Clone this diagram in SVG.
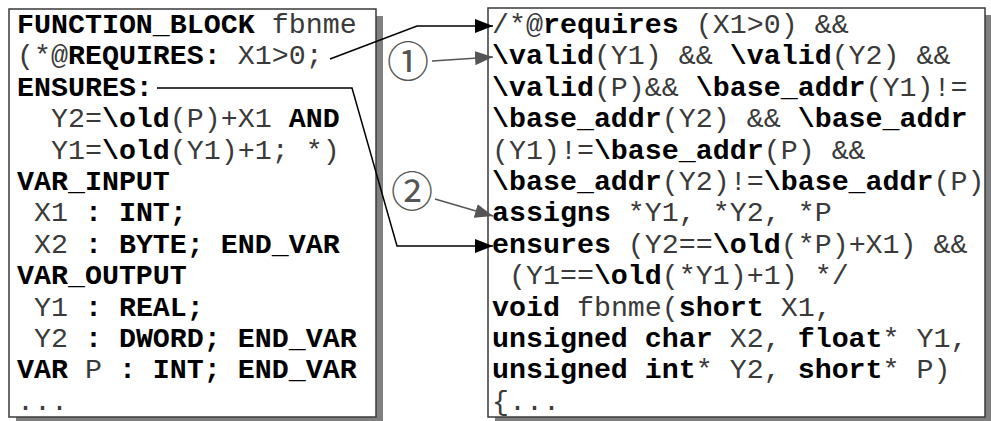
<svg xmlns="http://www.w3.org/2000/svg" width="991" height="421" viewBox="0 0 991 421">
<style>
.shadow{fill:#808080}
.box{fill:#fff;stroke:#3a3a3a;stroke-width:1.5}
.t{font-family:"Courier New","Liberation Mono",monospace;font-size:28.3px;fill:#3a3a3a;white-space:pre}
.b{font-weight:bold;fill:#000}
.c{fill:none;stroke:#000;stroke-width:1.5}
.g{fill:none;stroke:#555;stroke-width:1.5}
.num{font-family:"Noto Sans CJK JP","DejaVu Sans",sans-serif;font-size:42px;fill:#555;text-anchor:middle}
</style>
<defs>
<marker id="ab" markerUnits="userSpaceOnUse" markerWidth="18" markerHeight="14" refX="18" refY="7" orient="auto"><path d="M0,0 L18,7 L0,14 z" fill="#000"/></marker>
<marker id="ag" markerUnits="userSpaceOnUse" markerWidth="18" markerHeight="14" refX="18" refY="7" orient="auto"><path d="M0,0 L18,7 L0,14 z" fill="#555"/></marker>
</defs>
<rect width="991" height="421" fill="#fff"/>
<g id="iec-source">
<rect class="shadow" x="16" y="16" width="367" height="408"/>
<rect class="box" x="9" y="9" width="367" height="408"/>
<text class="t" x="17" y="33" xml:space="preserve"><tspan class="b">FUNCTION_BLOCK</tspan> fbnme</text>
<text class="t" x="17" y="64.4" xml:space="preserve">(*@<tspan class="b">REQUIRES:</tspan> X1&gt;0;</text>
<text class="t" x="17" y="95.8" xml:space="preserve"><tspan class="b">ENSURES:</tspan></text>
<text class="t" x="17" y="127.2" xml:space="preserve">  Y2=<tspan class="b">\old</tspan>(P)+X1 <tspan class="b">AND</tspan></text>
<text class="t" x="17" y="158.6" xml:space="preserve">  Y1=<tspan class="b">\old</tspan>(Y1)+1; *)</text>
<text class="t" x="17" y="190" xml:space="preserve"><tspan class="b">VAR_INPUT</tspan></text>
<text class="t" x="17" y="221.4" xml:space="preserve"> X1 <tspan class="b">: INT;</tspan></text>
<text class="t" x="17" y="252.8" xml:space="preserve"> X2 <tspan class="b">: BYTE; END_VAR</tspan></text>
<text class="t" x="17" y="284.2" xml:space="preserve"><tspan class="b">VAR_OUTPUT</tspan></text>
<text class="t" x="17" y="315.6" xml:space="preserve"> Y1 <tspan class="b">: REAL;</tspan></text>
<text class="t" x="17" y="347" xml:space="preserve"> Y2 <tspan class="b">: DWORD; END_VAR</tspan></text>
<text class="t" x="17" y="378.4" xml:space="preserve"><tspan class="b">VAR</tspan> P <tspan class="b">: INT; END_VAR</tspan></text>
<text class="t" x="17" y="409.8" xml:space="preserve">...</text>
</g>
<g id="c-target">
<rect class="shadow" x="495" y="15" width="497" height="409"/>
<rect class="box" x="488" y="8" width="497" height="409"/>
<text class="t" x="492" y="33" xml:space="preserve">/*@<tspan class="b">requires</tspan> (X1&gt;0) &amp;&amp;</text>
<text class="t" x="492" y="64.4" xml:space="preserve"><tspan class="b">\valid</tspan>(Y1) &amp;&amp; <tspan class="b">\valid</tspan>(Y2) &amp;&amp;</text>
<text class="t" x="492" y="95.8" xml:space="preserve"><tspan class="b">\valid</tspan>(P)&amp;&amp; <tspan class="b">\base_addr</tspan>(Y1)!=</text>
<text class="t" x="492" y="127.2" xml:space="preserve"><tspan class="b">\base_addr</tspan>(Y2) &amp;&amp; <tspan class="b">\base_addr</tspan></text>
<text class="t" x="492" y="158.6" xml:space="preserve">(Y1)!=<tspan class="b">\base_addr</tspan>(P) &amp;&amp;</text>
<text class="t" x="492" y="190" xml:space="preserve"><tspan class="b">\base_addr</tspan>(Y2)!=<tspan class="b">\base_addr</tspan>(P)</text>
<text class="t" x="492" y="221.4" xml:space="preserve"><tspan class="b">assigns</tspan> *Y1, *Y2, *P</text>
<text class="t" x="492" y="252.8" xml:space="preserve"><tspan class="b">ensures</tspan> (Y2==<tspan class="b">\old</tspan>(*P)+X1) &amp;&amp;</text>
<text class="t" x="492" y="284.2" xml:space="preserve"> (Y1==<tspan class="b">\old</tspan>(*Y1)+1) */</text>
<text class="t" x="492" y="315.6" xml:space="preserve"><tspan class="b">void</tspan> fbnme(<tspan class="b">short</tspan> X1,</text>
<text class="t" x="492" y="347" xml:space="preserve"><tspan class="b">unsigned char</tspan> X2, <tspan class="b">float</tspan>* Y1,</text>
<text class="t" x="492" y="378.4" xml:space="preserve"><tspan class="b">unsigned int</tspan>* Y2, <tspan class="b">short</tspan>* P)</text>
<text class="t" x="492" y="409.8" xml:space="preserve">{...</text>
</g>
<g id="mark-1">
<text class="num" x="408" y="77">①</text>
</g>
<g id="mark-2">
<text class="num" x="412" y="207">②</text>
</g>
<g id="connectors">
<path class="c" d="M330,59 L417,26 H493" marker-end="url(#ab)"/>
<path class="c" d="M157,88 H352 L397,246 H493" marker-end="url(#ab)"/>
<path class="g" d="M432,61 L493,57" marker-end="url(#ag)"/>
<path class="g" d="M435,199 L493,216" marker-end="url(#ag)"/>
</g>
</svg>
